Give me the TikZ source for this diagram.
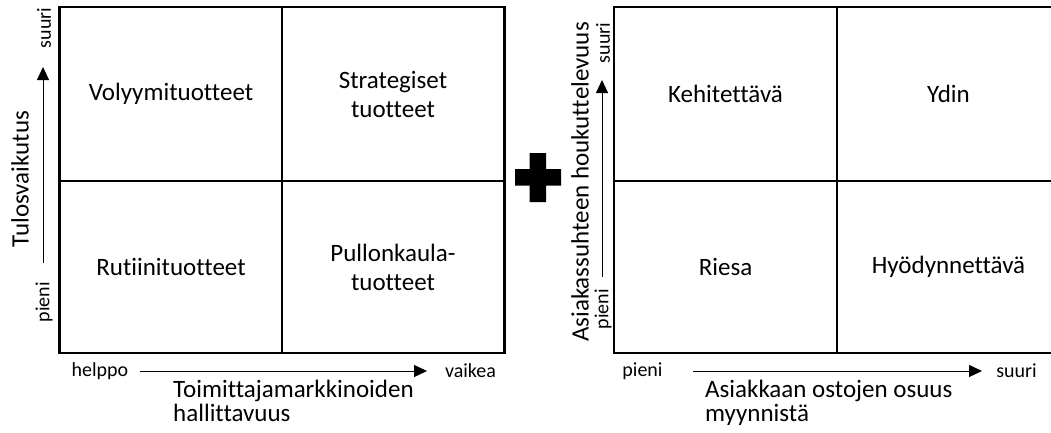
\documentclass[tikz,border=0pt]{standalone}
\usepackage{fontspec}
\setmainfont{Carlito}[Ligatures=NoCommon]
\usetikzlibrary{arrows.meta}

\tikzset{
  frame/.style={line width=2.2pt, line join=miter},
  divider/.style={line width=1.6pt},
  quad/.style={align=center, inner sep=0pt, font=\fontsize{25}{29}\selectfont},
  axistitle/.style={inner sep=0pt, font=\fontsize{25}{29}\selectfont},
  tick/.style={inner sep=0pt, font=\fontsize{20}{24}\selectfont},
  axisarrow/.style={line width=1pt, -{Triangle[length=13pt,width=12pt]}},
}

\begin{document}
\begin{tikzpicture}[x=1pt,y=-1pt]
\useasboundingbox (0,0) rectangle (1051,432);

% ---------- left matrix: Kraljic ----------
\draw[frame] (59.5,7) rectangle (504.5,353);
\draw[divider] (282,7) -- (282,353);
\draw[divider] (59.5,181) -- (504.5,181);

\node[quad] (vol) at (171,94)  {Volyymituotteet};
\node[quad] (str) at (393,94)  {Strategiset\\tuotteet};
\node[quad] (rut) at (171,267) {Rutiinituotteet};
\node[quad] (pul) at (393,267) {Pullonkaula-\\tuotteet};

% vertical axis
\node[axistitle, rotate=90] (ytitleL) at (20,179) {Tulosvaikutus};
\node[tick, rotate=90] (ysuuriL) at (44,28)  {suuri};
\node[tick, rotate=90] (ypieniL) at (44,302) {pieni};
\coordinate (yaL0) at (43,263);
\coordinate (yaL1) at (43,67);
\draw[axisarrow] (yaL0) -- (yaL1);

% horizontal axis
\node[tick] (xlowL)  at (100,371) {helppo};
\node[tick] (xhighL) at (470.5,371) {vaikea};
\coordinate (xaL0) at (140,371);
\coordinate (xaL1) at (427,371);
\draw[axisarrow] (xaL0) -- (xaL1);
\node[axistitle, anchor=base west] (xtitleL1) at (173,397) {Toimittajamarkkinoiden};
\node[axistitle, anchor=base west] (xtitleL2) at (173,421) {hallittavuus};

% ---------- plus sign ----------
\fill (529.5,153) -- (546,153) -- (546,169) -- (561,169) -- (561,185.5)
      -- (546,185.5) -- (546,202) -- (529.5,202) -- (529.5,185.5)
      -- (515,185.5) -- (515,169) -- (529.5,169) -- cycle;

% ---------- right matrix: customer portfolio ----------
\begin{scope}
  \clip (0,0) rectangle (1051,432);
  \draw[frame] (614,7) rectangle (1060,353);
  \draw[divider] (837,7) -- (837,353);
  \draw[divider] (614,181) -- (1060,181);
\end{scope}

\node[quad] (keh) at (725.5,94)  {Kehitettävä};
\node[quad] (ydi) at (948.5,94)  {Ydin};
\node[quad] (rie) at (725.5,267) {Riesa};
\node[quad] (hyo) at (948.5,267) {Hyödynnettävä};

% vertical axis
\node[axistitle, rotate=90] (ytitleR) at (580,182) {Asiakassuhteen houkuttelevuus};
\node[tick, rotate=90] (ysuuriR) at (603,43)  {suuri};
\node[tick, rotate=90] (ypieniR) at (603,309) {pieni};
\coordinate (yaR0) at (602,277);
\coordinate (yaR1) at (602,80);
\draw[axisarrow] (yaR0) -- (yaR1);

% horizontal axis
\node[tick] (xlowR)  at (642.5,371) {pieni};
\node[tick] (xhighR) at (1016.5,371) {suuri};
\coordinate (xaR0) at (693,371);
\coordinate (xaR1) at (982,371);
\draw[axisarrow] (xaR0) -- (xaR1);
\node[axistitle, anchor=base west] (xtitleR1) at (705,397) {Asiakkaan ostojen osuus};
\node[axistitle, anchor=base west] (xtitleR2) at (705,421) {myynnistä};
\end{tikzpicture}
\end{document}
